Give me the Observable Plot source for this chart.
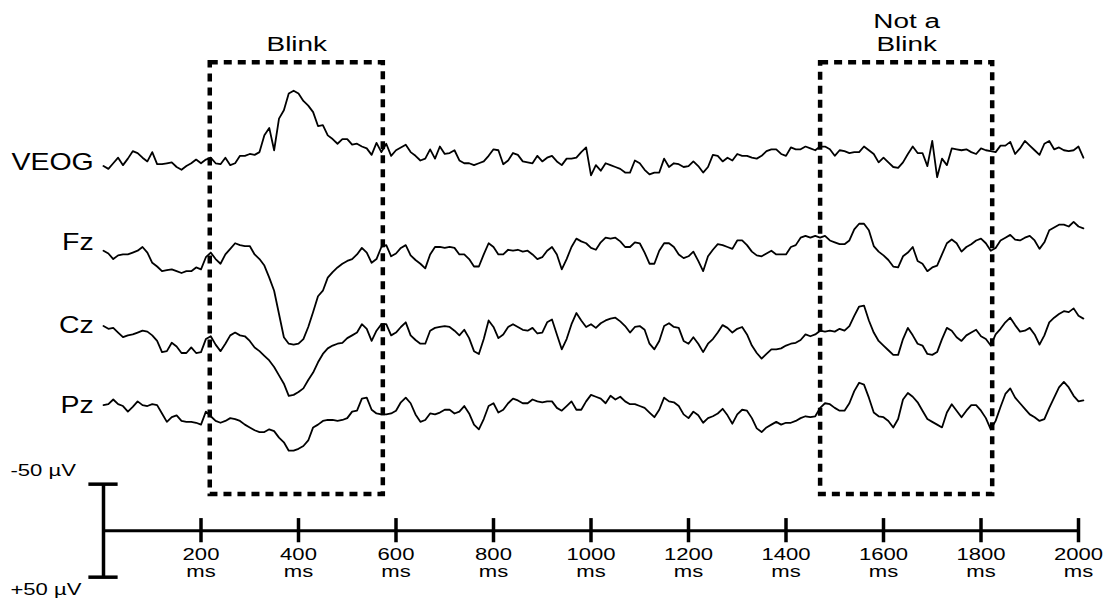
<!DOCTYPE html>
<html>
<head>
<meta charset="utf-8">
<script src="https://cdn.jsdelivr.net/npm/d3@7"></script>
<script src="https://cdn.jsdelivr.net/npm/@observablehq/plot@0.6"></script>
<style>
  html, body { margin: 0; padding: 0; background: #fff; overflow: hidden; }
  #chart svg { display: block; }
</style>
</head>
<body>
<div id="chart"></div>
<script>
// ---- Data (µV, negative plotted upward), sampled every 10 ms from 0 to 2010 ms ----
const sampleStepMs = 10;
const channels = ["VEOG", "Fz", "Cz", "Pz"];
const channelOffsets = [-400, -301, -215, -134]; // vertical stacking offset of each trace (µV units)

const veog = [
  8, 11, 5, -1, 7, 0, -8, -6, -1, 3, -7, 6, 6, 5, 4, 9, 12, 8, 5, 1, 5, 1, -1, 5, 6, -1, 7, 5, -3, -3,
  -5, -4, -7, -25, -33, -9, -43, -52, -70, -73, -70, -62, -57, -50, -35, -36, -25, -21, -16, -21,
  -21, -15, -16, -13, -11, -4, -17, -7, -16, -3, -9, -12, -15, -7, -3, 2, 0, -10, 0, -13, -5, -6, -9, 2, 5,
  5, 7, 5, 3, -3, -10, -9, 6, 2, -6, -4, 3, 4, 5, -3, 3, -1, -3, 3, 7, 0, 0, -1, -7, -12, 18,
  7, 13, 5, 7, 9, 11, 15, 15, 2, 5, 12, 17, 15, 15, 0, 9, 5, 6, 9, 8, 3, 8, 15, 9, -4, -3, 3, -1, 2, -5,
  -3, -3, -1, 0, -3, -8, -10, -10, -5, -3, -12, -10, -10, -13, -11, -9, -13, -13, -10, -3, -9,
  -8, -6, -7, -7, -13, -9, -5, 4, -1, 4, 9, 10, 4, -5, -13, -6, -6, 8, -19, 20, 0, 7, -11, -10, -9,
  -10, -7, -5, -11, -9, -8, -7, -14, -14, -18, -5, -11, -19, -14, -9, -4, -16, -19, -10, -12, -9, -8, -9, -13, -1
];
const fz = [
  0, 3, 9, 5, 4, 4, 2, 0, -4, 2, 13, 17, 22, 21, 20, 22, 24, 22, 22, 18, 20, 7, 2, 9, 14, 4, -2, -8, -6, -5,
  -5, 4, 9, 16, 29, 43, 68, 93, 100, 101, 100, 95, 82, 66, 49, 43, 29, 23, 18, 14,
  11, 9, 4, -3, 2, 13, 9, -4, -6, 6, 3, -3, -6, 5, 10, 14, 19, 4, -4, -4, -3, -4, -3, 4, 4, 9, 17, 17, 4, -8,
  -4, 4, 4, -1, 0, -1, 1, 0, 4, 9, 7, 0, -4, 4, 20, 9, -4, -13, -10, -8, -3,
  -1, -9, -14, -13, -14, -10, -4, -4, -9, -8, 2, 14, 14, 0, -8, -8, -4, 4, 8, 6, 1, 11, 22, 6, -1, -7, -6, -4, -2, -11,
  -11, -6, 1, 5, 6, 3, 0, 4, 4, 4, -4, -6, -14, -16, -14, -16, -14, -16, -11, -9, -7,
  -7, -11, -23, -29, -29, -22, -5, 1, 5, 10, 17, 18, 6, 2, -4, 11, 14, 22, 18, 16, 4, -8, -12, -8, 1,
  -4, -7, -11, -13, -8, 0, -3, -11, -14, -17, -12, -11, -14, -16, -11, -2, -9, -22, -25, -28, -28, -26, -31, -26, -24
];
const cz = [
  -5, -2, -3, 2, 7, 5, 4, 2, 0, 1, 5, 11, 23, 22, 13, 17, 24, 24, 18, 24, 23, 9, 6, 15, 22, 14, 5, 2, 5, 6,
  11, 18, 22, 27, 32, 39, 48, 57, 70, 69, 66, 62, 53, 45, 34, 25, 19, 16, 14, 13,
  8, 5, 2, -7, -2, 11, 0, -7, -7, 5, 2, -4, -9, 5, 10, 14, 14, 0, -3, -4, -5, -4, 0, 5, -1, 8, 22, 25, 9, -11,
  -4, 8, 4, -4, -7, -4, -1, 0, -3, 3, 2, -9, -12, 4, 20, 9, -7, -19, -11, -4, -7,
  -3, -8, -11, -13, -14, -10, -5, 2, -4, -5, -1, 14, 20, 11, -5, -8, -4, -3, 11, 14, 7, 14, 23, 14, 9, 2, -6, -3, 2, -2,
  -4, 4, 16, 24, 30, 25, 20, 20, 19, 16, 14, 13, 10, 4, 6, 4, 0, 1, 0, 1, -2,
  0, -5, -16, -26, -27, -11, 2, 11, 16, 21, 26, 26, 9, -3, 5, 14, 16, 25, 26, 23, 9, -3, 0, 7, 11,
  5, 2, -1, 6, 9, 16, 4, -2, -9, -14, -6, 1, 0, -3, 4, 15, 5, -9, -14, -18, -21, -20, -24, -16, -13
];
const pz = [
  -1, -2, -7, -2, 0, 6, 1, -5, -1, 0, -2, -1, 8, 17, 12, 10, 16, 17, 17, 18, 20, 6, 11, 16, 18, 16, 13, 14, 16, 20,
  23, 26, 28, 28, 25, 27, 34, 39, 48, 48, 46, 43, 37, 23, 20, 16, 15, 15, 16, 15,
  13, 6, 5, -8, -9, 4, 8, 9, 9, 8, 5, -4, -9, -3, 9, 17, 15, 8, 9, 7, 4, 4, 8, 6, 0, 8, 20, 25, 14, 0,
  -3, 7, 4, -3, -8, -6, -3, -3, -7, -5, -4, -5, -5, 2, 5, 0, -5, 4, 4, -5, -12,
  -10, -8, -3, -11, -7, -10, -5, -2, -2, 0, 2, 7, 12, 4, -9, -5, -4, 0, 9, 13, 6, 10, 18, 13, 11, 8, 3, 10, 19, 9,
  4, 5, 13, 24, 28, 23, 20, 17, 20, 18, 18, 16, 13, 11, 12, 11, 2, -3, -2, 2, 5,
  5, -3, -16, -25, -23, -9, 7, 11, 12, 16, 23, 14, -7, -14, -10, -4, 5, 14, 17, 20, 23, 7, -2, 5, 12,
  5, -1, -1, 5, 13, 25, 16, 1, -13, -19, -9, -3, 3, 9, 12, 16, 14, 2, -9, -20, -26, -20, -11, -5, -6
];
const series = [veog, fz, cz, pz];

const boxLabels = ["Blink", "Not a\nBlink"];
const boxStartMs = [219, 1471];
const boxEndMs = [574, 1824];
const boxTopUv = -503;    // box vertical extent, in the same stacked µV units
const boxBottomUv = -39;

const tickValues = [200, 400, 600, 800, 1000, 1200, 1400, 1600, 1800, 2000];
const tickUnit = "ms";
const scaleBarUv = [-50, 50];

// ---- Build tables ----
const traceRows = [];
series.forEach((vals, c) => {
  vals.forEach((v, i) => traceRows.push({channel: channels[c], t: i * sampleStepMs, u: channelOffsets[c] + v}));
});
const boxes = boxLabels.map((label, i) => ({label, start: boxStartMs[i], end: boxEndMs[i]}));
const labelNudge = [4, -9, -5, 0];
const channelRows = channels.map((name, i) => ({name, y: channelOffsets[i] + labelNudge[i]}));

const font = "'Liberation Sans', Arial, Helvetica, sans-serif";

const chart = Plot.plot({
  width: 1105,
  height: 599,
  marginLeft: 103,
  marginRight: 27,
  marginTop: 0,
  marginBottom: 0,
  x: {domain: [0, 2000], axis: null},
  y: {domain: [-570, 74], range: [0, 599], axis: null},
  style: {fontFamily: font, color: "black", background: "white", overflow: "visible"},
  marks: [
    Plot.rect(boxes, {x1: "start", x2: "end", y1: boxTopUv, y2: boxBottomUv,
      fill: "none", stroke: "black", strokeWidth: 4.5, strokeDasharray: "8,6"}),
    Plot.line(traceRows, {x: "t", y: "u", z: "channel", stroke: "black", strokeWidth: 1.8, curve: "linear"}),
    // time axis
    Plot.ruleY([0], {x1: 0, x2: 2000, stroke: "black", strokeWidth: 3}),
    Plot.ruleX(tickValues, {y1: -13, y2: 13, stroke: "black", strokeWidth: 3.5}),
    Plot.text(tickValues, {x: d => d, y: 19, text: d => `${d}\n${tickUnit}`, lineAnchor: "top",
      fontSize: 17, lineHeight: 1.0, fill: "black", className: "wide-tick"}),
    // voltage scale bar
    Plot.ruleX([0], {y1: scaleBarUv[0], y2: scaleBarUv[1], stroke: "black", strokeWidth: 3.5}),
    Plot.ruleY(scaleBarUv, {x1: -30, x2: 30, stroke: "black", strokeWidth: 3.5}),
    Plot.text([scaleBarUv[0]], {x: -191, y: d => d, dy: -14, text: d => `${d} µV`, textAnchor: "start",
      fontSize: 17, className: "wide-uv"}),
    Plot.text([scaleBarUv[1]], {x: -191, y: d => d, dy: 12, text: d => `+${d} µV`, textAnchor: "start",
      fontSize: 17, className: "wide-uv"}),
    // channel labels
    Plot.text(channelRows, {x: -20, y: "y", text: "name", textAnchor: "end", fontSize: 23, className: "wide-chan"}),
    // box labels
    Plot.text(boxes, {x: d => (d.start + d.end) / 2, y: -516, text: "label", lineAnchor: "bottom",
      fontSize: 21, lineHeight: 1.1, className: "wide-box"})
  ]
});

// Text in the reference is horizontally stretched: widen each label about its anchor.
const stretch = {"wide-tick": 1.3, "wide-uv": 1.3, "wide-chan": 1.24, "wide-box": 1.33};
Object.entries(stretch).forEach(([cls, s]) => {
  chart.querySelectorAll(`g.${cls} text`).forEach(el => {
    const tr = el.getAttribute("transform");
    if (tr) {
      el.setAttribute("transform", tr + ` scale(${s},1)`);
    } else {
      const x = +(el.getAttribute("x") || 0);
      el.setAttribute("transform", `translate(${x},0) scale(${s},1) translate(${-x},0)`);
    }
  });
});

document.getElementById("chart").appendChild(chart);
</script>
</body>
</html>
